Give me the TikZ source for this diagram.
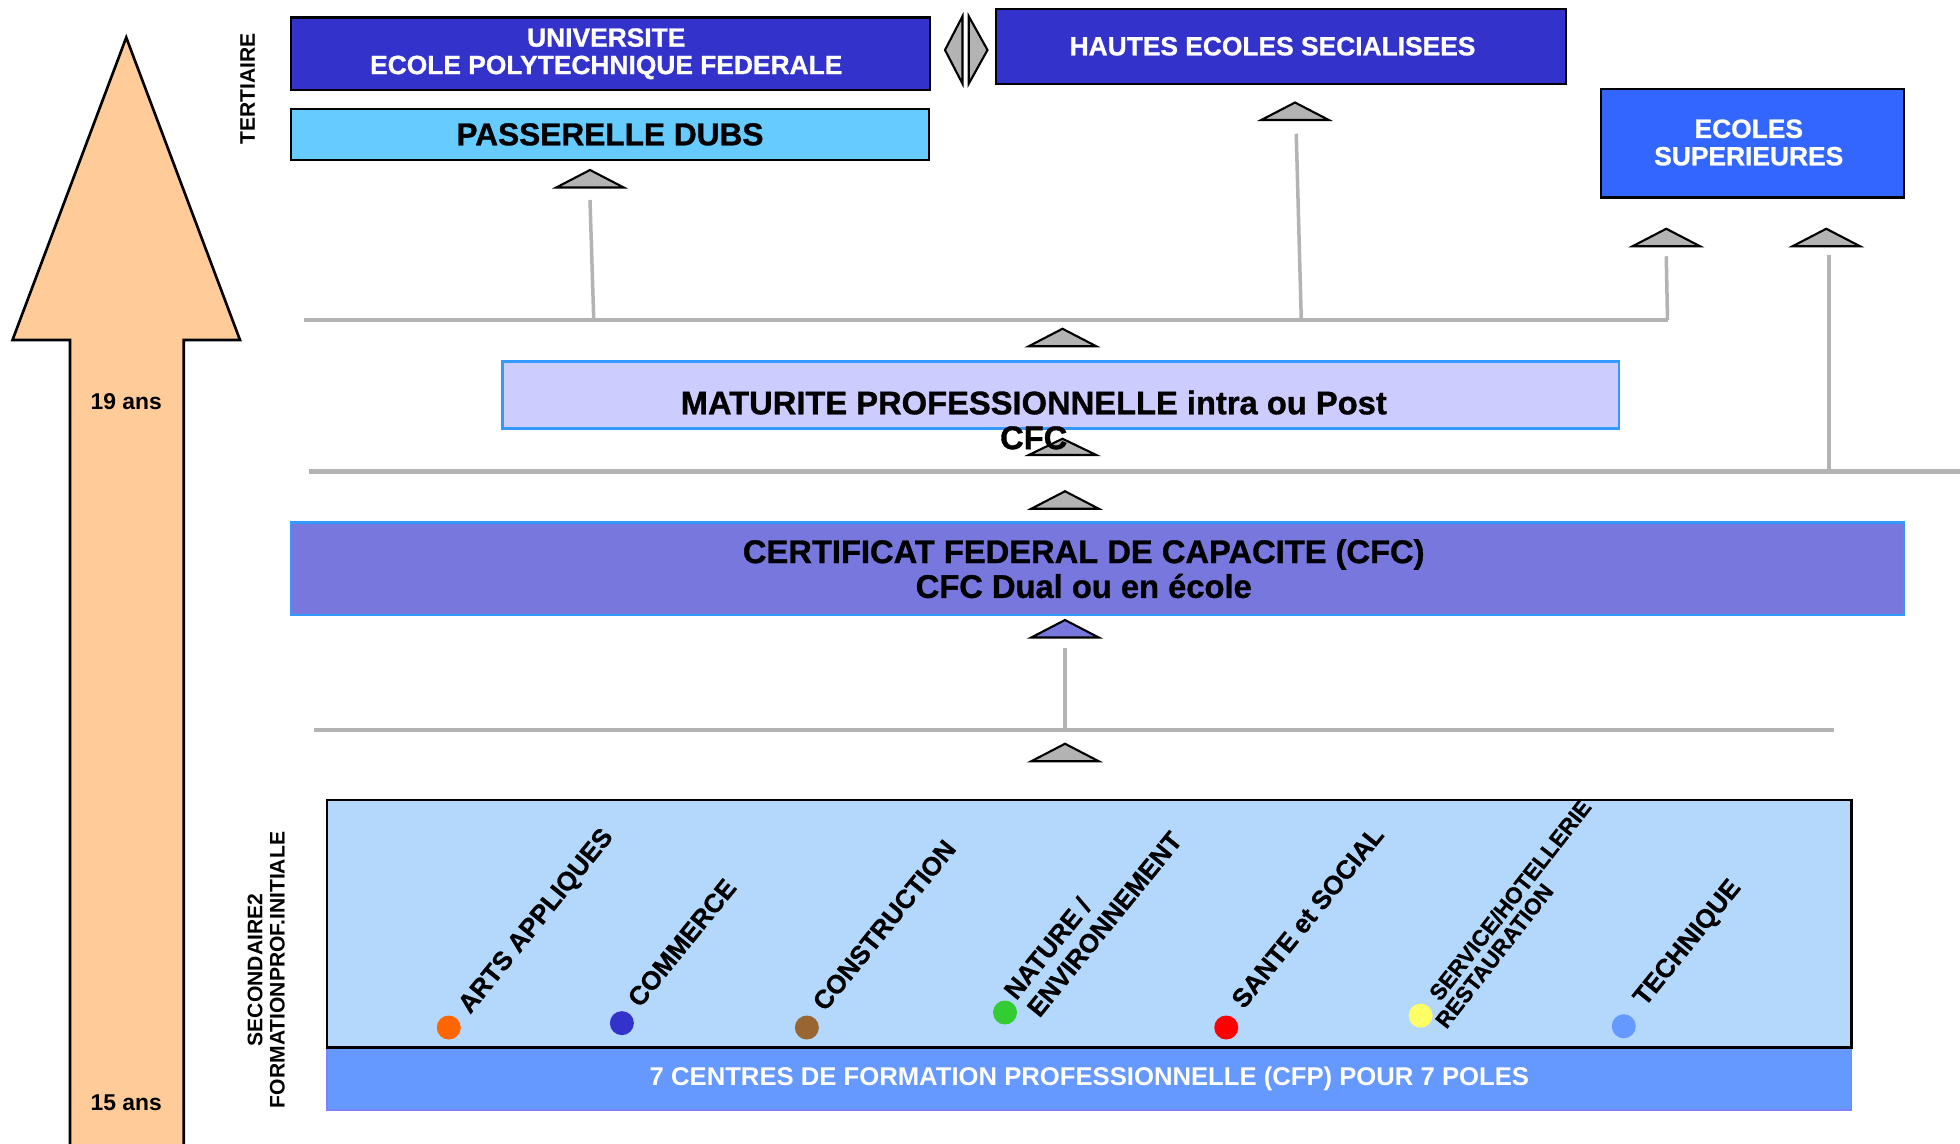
\documentclass[tikz,border=0pt]{standalone}
\usepackage{fontspec}
\setmainfont{Liberation Sans}
\newfontfamily\heavy{Liberation Sans}[FakeBold=1]
\usetikzlibrary{calc}
\definecolor{dkblue}{HTML}{3333CC}
\definecolor{supblue}{HTML}{3366FF}
\definecolor{passblue}{HTML}{66CCFF}
\definecolor{matfill}{HTML}{CCCCFF}
\definecolor{matborder}{HTML}{3399FF}
\definecolor{cfcfill}{HTML}{7777DD}
\definecolor{peach}{HTML}{FFCC99}
\definecolor{polefill}{HTML}{B4D8FC}
\definecolor{cfpfill}{HTML}{6699FF}
\definecolor{cfpborder}{HTML}{8080FF}
\definecolor{linegray}{HTML}{B3B3B3}
\definecolor{dorange}{HTML}{FF6600}
\definecolor{dblue}{HTML}{3333CC}
\definecolor{dbrown}{HTML}{996633}
\definecolor{dgreen}{HTML}{33CC33}
\definecolor{dred}{HTML}{FF0000}
\definecolor{dyellow}{HTML}{FFFF66}
\definecolor{dlight}{HTML}{6699FF}
\newcommand\uptri[5]{%
  \path[tri, fill=#5] (#2-27,#4) -- (#2,#3) -- (#2+27,#4) -- cycle;
  \coordinate (#1) at (#2,#4);}
\begin{document}
\begin{tikzpicture}[x=0.025cm,y=-0.025cm,
  box/.style={draw=black, line width=1.2pt, inner sep=0pt, outer sep=0pt},
  wtext/.style={text=white, font=\heavy\bfseries\fontsize{15}{15.6}\selectfont, align=center, inner sep=0pt},
  btext/.style={text=black, font=\heavy\bfseries\fontsize{18.6}{19.8}\selectfont, align=center, inner sep=0pt},
  hline/.style={draw=linegray, line width=2.8pt},
  vline/.style={draw=linegray, line width=2pt},
  tri/.style={draw=black, line width=1.2pt, fill=linegray, line join=miter},
  pole/.style={anchor=base west, rotate=51, inner sep=0pt, font=\heavy\bfseries\fontsize{14.8}{14.8}\selectfont},
  polesm/.style={anchor=base west, rotate=52, inner sep=0pt, font=\heavy\bfseries\fontsize{12.8}{12.8}\selectfont},
  dot/.style={circle, minimum size=0.48cm, inner sep=0pt, draw=none},
  side/.style={font=\bfseries\fontsize{12}{12.6}\selectfont, rotate=90, align=center, inner sep=0pt},
  age/.style={font=\bfseries\fontsize{13}{13}\selectfont, inner sep=0pt}
]
\useasboundingbox (0,0) rectangle (1568,915);
\clip (0,0) rectangle (1568,915);

% big age arrow
\path[draw=black, line width=1.5pt, fill=peach, line join=miter]
  (101,30) -- (192,272) -- (147,272) -- (147,940) -- (56,940) -- (56,272) -- (10,272) -- cycle;
\node[age] (a19) at (101,321) {19 ans};
\node[age] (a15) at (101,882) {15 ans};

% side labels
\node[side] (tert) at (198,71) {TERTIAIRE};
\node[side] (sec) at (213,776) {SECONDAIRE2\\FORMATIONPROF.INITIALE};

% tertiary boxes
\node[box, fill=dkblue, minimum width=12.775cm, minimum height=1.45cm] (univ) at (488.5,43) {};
\node[wtext] (univt) at (485,43) {UNIVERSITE\\ECOLE POLYTECHNIQUE FEDERALE};
\node[box, fill=passblue, minimum width=12.75cm, minimum height=1.025cm,
      font=\heavy\bfseries\fontsize{18}{19}\selectfont] (pass) at (488,107.5) {PASSERELLE DUBS};
\node[box, fill=dkblue, minimum width=11.4cm, minimum height=1.5cm] (hes) at (1025,37) {};
\node[wtext] (hest) at (1018,37) {HAUTES ECOLES SECIALISEES};
\node[box, fill=supblue, minimum width=6.05cm, minimum height=2.175cm] (es) at (1402,114.5) {};
\node[wtext] (est) at (1399,114) {ECOLES\\SUPERIEURES};

% double arrow between university and HES
\path[tri] (756,40) -- (770,13) -- (770,67) -- cycle;
\path[tri] (775,13) -- (790,40) -- (775,67) -- cycle;
\coordinate (dl) at (756,40);
\coordinate (dr) at (790,40);

% triangles (arrow heads)
\uptri{t1}{472}{136}{150}{linegray}
\uptri{t2}{1036}{82}{96}{linegray}
\uptri{t3}{1333}{183}{197}{linegray}
\uptri{t4}{1461}{183}{197}{linegray}
\uptri{t5}{850}{263}{277}{linegray}
\uptri{t6}{850}{351}{364}{linegray}
\uptri{t7}{852}{393}{407}{linegray}
\uptri{t8}{852}{496}{510}{cfcfill}
\uptri{t9}{852}{595}{609}{linegray}

% connector coordinates
\coordinate (h1L) at (243,256);
\coordinate (h1R) at (1334,256);
\coordinate (j1) at (475,256);
\coordinate (j2) at (1041,255);
\coordinate (h2L) at (247,377);
\coordinate (h2R) at (1580,377);
\coordinate (j4) at (1463,377);
\coordinate (h3L) at (251,584);
\coordinate (h3R) at (1467,584);
\coordinate (j5) at (852,584);

\draw[hline] (h1L) -- (h1R);
\draw[hline] (h2L) -- (h2R);
\draw[hline] (h3L) -- (h3R);
\draw[vline] ($(t1)+(0,10)$) -- (j1);
\draw[vline] ($(t2)+(1,11)$) -- (j2);
\draw[vline] ($(t3)+(0,8)$) -- (h1R);
\draw[vline] ($(t4)+(2,7)$) -- (j4);
\draw[vline] ($(t8)+(0,8)$) -- (j5);

% maturite
\node[draw=matborder, line width=1.5pt, fill=matfill, inner sep=0pt,
      minimum width=22.325cm, minimum height=1.35cm] (mat) at (848.5,316) {};
\node[btext] (matt) at (827,336) {MATURITE PROFESSIONNELLE intra ou Post\\CFC};

% CFC
\node[draw=matborder, line width=1.5pt, fill=cfcfill, inner sep=0pt,
      minimum width=32.25cm, minimum height=1.85cm] (cfc) at (878,455) {};
\node[btext] (cfct) at (867,455) {CERTIFICAT FEDERAL DE CAPACITE (CFC)\\CFC Dual ou en école};

% CFP bar and poles box
\node[draw=cfpborder, line width=1pt, fill=cfpfill, inner sep=0pt,
      minimum width=30.475cm, minimum height=1.25cm,
      text=white, font=\bfseries\fontsize{14.6}{14.6}\selectfont] (cfp) at (871.5,863)
      {7 CENTRES DE FORMATION PROFESSIONNELLE (CFP) POUR 7 POLES};
\node[box, fill=polefill, minimum width=30.475cm, minimum height=4.95cm] (poles) at (871.5,739) {};

% dots
\node[dot, fill=dorange] (d1) at (359,822) {};
\node[dot, fill=dblue] (d2) at (497.5,818.5) {};
\node[dot, fill=dbrown] (d3) at (645.5,822) {};
\node[dot, fill=dgreen] (d4) at (804,810) {};
\node[dot, fill=dred] (d5) at (981,822) {};
\node[dot, fill=dyellow] (d6) at (1136.5,812.5) {};
\node[dot, fill=dlight] (d7) at (1299,821) {};

% pole labels
\node[pole] (p1) at (376,812) {ARTS APPLIQUES};
\node[pole] (p2) at (512,807) {COMMERCE};
\node[pole] (p3) at (660,810) {CONSTRUCTION};
\node[pole] (p4a) at (813,801) {NATURE /};
\node[pole] (p4b) at (831.5,815) {ENVIRONNEMENT};
\node[pole] (p5) at (995,808) {SANTE et SOCIAL};
\node[polesm] (p6a) at (1152,802) {SERVICE/HOTELLERIE};
\node[polesm] (p6b) at (1157,824) {RESTAURATION};
\node[pole] (p7) at (1316,806) {TECHNIQUE};
\end{tikzpicture}
\end{document}
